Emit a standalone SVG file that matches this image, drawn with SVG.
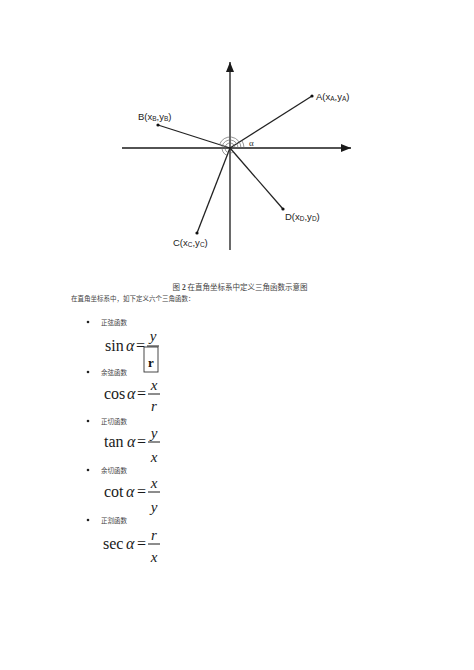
<svg xmlns="http://www.w3.org/2000/svg" width="474" height="670" viewBox="0 0 474 670">
<defs>
<style>
.ax{stroke:#1a1a1a;stroke-width:1.3;fill:none}
.ray{stroke:#222;stroke-width:1.3;fill:none}
.arc{stroke:#666;stroke-width:0.7;fill:none}
.lbl{font-family:"Liberation Sans",Arial,sans-serif;font-size:9.5px;fill:#222}
.sub{font-size:6.5px}
.cjk{font-family:"Liberation Serif","Noto Sans CJK SC",serif;fill:#444}
.m{font-family:"Liberation Serif","Times New Roman",serif;font-size:16px;fill:#1a1a1a}
.mi{font-family:"Liberation Serif","Times New Roman",serif;font-size:16px;font-style:italic;fill:#1a1a1a}
.fr{font-family:"Liberation Serif","Times New Roman",serif;font-size:15px;font-style:italic;fill:#1a1a1a;text-anchor:middle}
.bar{stroke:#1a1a1a;stroke-width:1}
</style>
<marker id="ah" viewBox="0 0 10 8" refX="10" refY="4" markerWidth="10" markerHeight="8" markerUnits="userSpaceOnUse" orient="auto">
<path d="M0,0 L10,4 L0,8 Z" fill="#1a1a1a"/>
</marker>
</defs>
<rect width="474" height="670" fill="#ffffff"/>

<g id="connectors">
<line class="ax" x1="230" y1="250" x2="230" y2="62" marker-end="url(#ah)"/>
<line class="ax" x1="122" y1="148" x2="351" y2="148" marker-end="url(#ah)"/>
<line class="ray" x1="230" y1="148" x2="312" y2="96"/>
<line class="ray" x1="230" y1="148" x2="158" y2="125"/>
<line class="ray" x1="230" y1="148" x2="197" y2="233"/>
<line class="ray" x1="230" y1="148" x2="283" y2="209"/>
<path class="arc" d="M244,148 A14,14 0 0 0 241.87,140.58"/>
<path class="arc" d="M241,148 A11,11 0 0 0 219.54,144.60"/>
<path class="arc" d="M238,148 A8,8 0 1 0 227.13,155.47"/>
<path class="arc" d="M235,148 A5,5 0 1 0 233.28,151.77"/>
<text x="249" y="146" style="font-family:'Liberation Serif',serif;font-size:9px;fill:#333">α</text>
</g>

<g id="pointA">
<circle cx="312" cy="96" r="1.6" fill="#111"/>
<text class="lbl" x="316" y="100">A(x<tspan class="sub" dy="1">A</tspan><tspan dy="-1">,y</tspan><tspan class="sub" dy="1">A</tspan><tspan dy="-1">)</tspan></text>
</g>
<g id="pointB">
<circle cx="158" cy="125" r="1.6" fill="#111"/>
<text class="lbl" x="138" y="120">B(x<tspan class="sub" dy="1">B</tspan><tspan dy="-1">,y</tspan><tspan class="sub" dy="1">B</tspan><tspan dy="-1">)</tspan></text>
</g>
<g id="pointC">
<circle cx="197" cy="233" r="1.6" fill="#111"/>
<text class="lbl" x="173" y="246">C(x<tspan class="sub" dy="1">C</tspan><tspan dy="-1">,y</tspan><tspan class="sub" dy="1">C</tspan><tspan dy="-1">)</tspan></text>
</g>
<g id="pointD">
<circle cx="283" cy="209" r="1.6" fill="#111"/>
<text class="lbl" x="285" y="220">D(x<tspan class="sub" dy="1">D</tspan><tspan dy="-1">,y</tspan><tspan class="sub" dy="1">D</tspan><tspan dy="-1">)</tspan></text>
</g>

<g id="caption">
<text class="cjk" x="240" y="290" text-anchor="middle" font-size="7.5">图 <tspan font-weight="bold">2</tspan>  在直角坐标系中定义三角函数示意图</text>
<text class="cjk" x="71" y="301" font-size="6.5">在直角坐标系中，如下定义六个三角函数：</text>
</g>

<g id="sin">
<circle cx="88" cy="322" r="1.3" fill="#222"/>
<text class="cjk" x="101" y="325" font-size="6.5">正弦函数</text>
<text class="m" x="105" y="351">sin</text>
<text class="mi" x="126" y="351">α</text>
<text class="m" x="136" y="351">=</text>
<text class="fr" x="153" y="341">y</text>
<line class="bar" x1="147" y1="346" x2="159" y2="346" stroke-width="1.6"/>
<rect x="144" y="347" width="14" height="25" fill="#fff" stroke="#333" stroke-width="0.9"/>
<text x="151" y="367" text-anchor="middle" style="font-family:'Liberation Serif',serif;font-size:13px;font-weight:bold;fill:#111">r</text>
</g>

<g id="cos">
<circle cx="88" cy="372" r="1.3" fill="#222"/>
<text class="cjk" x="101" y="375" font-size="6.5">余弦函数</text>
<text class="m" x="104" y="399">cos</text>
<text class="mi" x="127" y="399">α</text>
<text class="m" x="137" y="399">=</text>
<text class="fr" x="154" y="390">x</text>
<line class="bar" x1="148" y1="394" x2="160" y2="394"/>
<text class="fr" x="154" y="411">r</text>
</g>

<g id="tan">
<circle cx="88" cy="421" r="1.3" fill="#222"/>
<text class="cjk" x="101" y="424" font-size="6.5">正切函数</text>
<text class="m" x="104" y="447">tan</text>
<text class="mi" x="127" y="447">α</text>
<text class="m" x="137" y="447">=</text>
<text class="fr" x="154" y="438">y</text>
<line class="bar" x1="148" y1="442" x2="160" y2="442"/>
<text class="fr" x="154" y="462">x</text>
</g>

<g id="cot">
<circle cx="88" cy="470" r="1.3" fill="#222"/>
<text class="cjk" x="101" y="473" font-size="6.5">余切函数</text>
<text class="m" x="104" y="497">cot</text>
<text class="mi" x="126" y="497">α</text>
<text class="m" x="137" y="497">=</text>
<text class="fr" x="154" y="488">x</text>
<line class="bar" x1="148" y1="492" x2="160" y2="492"/>
<text class="fr" x="154" y="512">y</text>
</g>

<g id="sec">
<circle cx="88" cy="520" r="1.3" fill="#222"/>
<text class="cjk" x="101" y="523" font-size="6.5">正割函数</text>
<text class="m" x="103" y="549">sec</text>
<text class="mi" x="126" y="549">α</text>
<text class="m" x="137" y="549">=</text>
<text class="fr" x="154" y="540">r</text>
<line class="bar" x1="148" y1="544" x2="160" y2="544"/>
<text class="fr" x="154" y="562">x</text>
</g>
</svg>
